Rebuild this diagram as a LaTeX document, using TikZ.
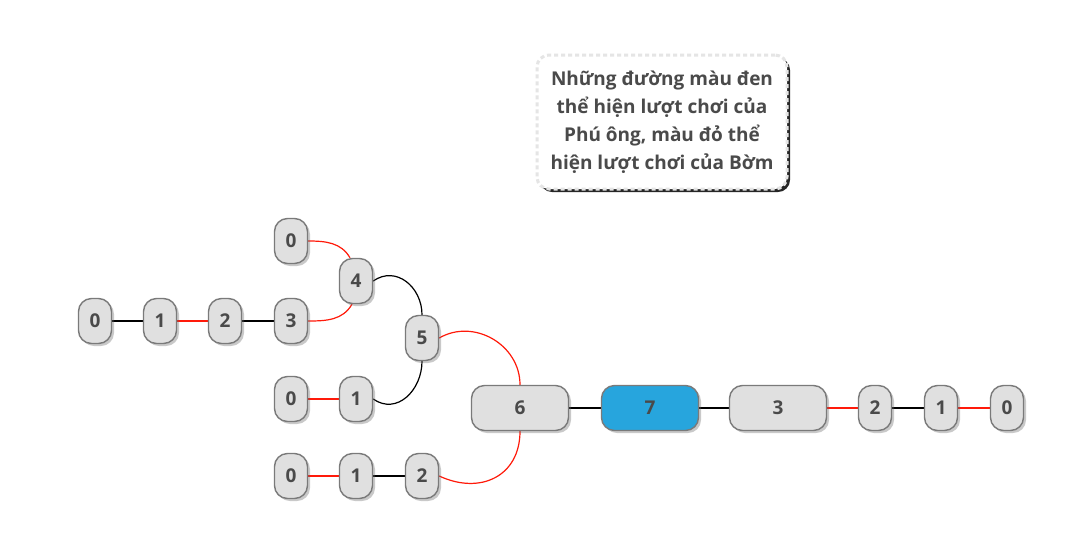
\documentclass[tikz,border=0pt]{standalone}
\usepackage{fontspec}
\setmainfont{Open Sans}
\usetikzlibrary{shadows,backgrounds}
\definecolor{nfill}{HTML}{E0E0E0}
\definecolor{nborder}{HTML}{7A7A7A}
\definecolor{ntext}{HTML}{4A4A4A}
\definecolor{nblue}{HTML}{27A5DD}
\definecolor{lred}{HTML}{FF1A0A}
\tikzset{
  x=1pt,y=1pt,
  nd/.style={draw=nborder,line width=1.4pt,fill=nfill,rounded corners=13pt,
    minimum width=33pt,minimum height=45pt,inner sep=0pt,
    font=\fontsize{19}{22}\selectfont\bfseries,text=ntext,
    drop shadow={shadow xshift=2.5pt,shadow yshift=-2.5pt,opacity=0.35,fill=black!60}},
  wide/.style={nd,minimum width=97pt},
  bl/.style={black,line width=1.2pt},
  rd/.style={lred,line width=1.2pt},
}
\begin{document}
\begin{tikzpicture}
\useasboundingbox (0,0) rectangle (1080,-542);
% note box
\node[draw=black!10,line width=3pt,dash pattern=on 4pt off 3pt,fill=white,rounded corners=12pt,
  minimum width=250pt,minimum height=134pt,align=center,
  font=\fontsize{19}{28}\selectfont\bfseries,text=ntext,
  drop shadow={shadow xshift=3pt,shadow yshift=-3pt,opacity=0.85,fill=black}]
  (note) at (662,-122) {Những đường màu đen\\thể hiện lượt chơi của\\Phú ông, màu đỏ thể\\hiện lượt chơi của Bờm};
% upper branch
\node[nd] (a0) at (95,-321) {0};
\node[nd] (a1) at (160,-321) {1};
\node[nd] (a2) at (225,-321) {2};
\node[nd] (a3) at (291,-321) {3};
\node[nd] (t0) at (291,-241) {0};
\node[nd] (n4) at (356,-281) {4};
\node[nd] (n5) at (422,-338) {5};
\node[nd] (b0) at (291,-399) {0};
\node[nd] (b1) at (356,-399) {1};
\node[nd] (c0) at (291,-476) {0};
\node[nd] (c1) at (356,-476) {1};
\node[nd] (c2) at (422,-476) {2};
% main row
\node[wide] (n6) at (520,-408) {6};
\node[wide,fill=nblue] (n7) at (650,-408) {7};
\node[wide] (d3) at (778,-408) {3};
\node[nd] (d2) at (875,-408) {2};
\node[nd] (d1) at (941,-408) {1};
\node[nd] (d0) at (1007,-408) {0};
\begin{scope}[on background layer]
\fill[white] (0,0) rectangle (1080,-542);
\draw[bl] (a0) -- (a1);
\draw[rd] (a1) -- (a2);
\draw[bl] (a2) -- (a3);
\draw[rd] (t0.east) to[out=0,in=120] ([xshift=-6pt]n4.north);
\draw[rd] (a3.east) to[out=0,in=-120] ([xshift=-4pt]n4.south);
\draw[bl] (n4.east) to[out=35,in=90,looseness=1.2] (n5.north);
\draw[rd] (b0) -- (b1);
\draw[bl] (b1.east) to[out=-35,in=-90,looseness=1.2] (n5.south);
\draw[rd] (n5.east) to[out=30,in=90,looseness=1.1] (n6.north);
\draw[rd] (c0) -- (c1);
\draw[bl] (c1) -- (c2);
\draw[rd] (c2.east) to[out=-25,in=-90,looseness=1.25] (n6.south);
\draw[bl] (n6) -- (n7);
\draw[bl] (n7) -- (d3);
\draw[rd] (d3) -- (d2);
\draw[bl] (d2) -- (d1);
\draw[rd] (d1) -- (d0);
\end{scope}
\end{tikzpicture}
\end{document}
